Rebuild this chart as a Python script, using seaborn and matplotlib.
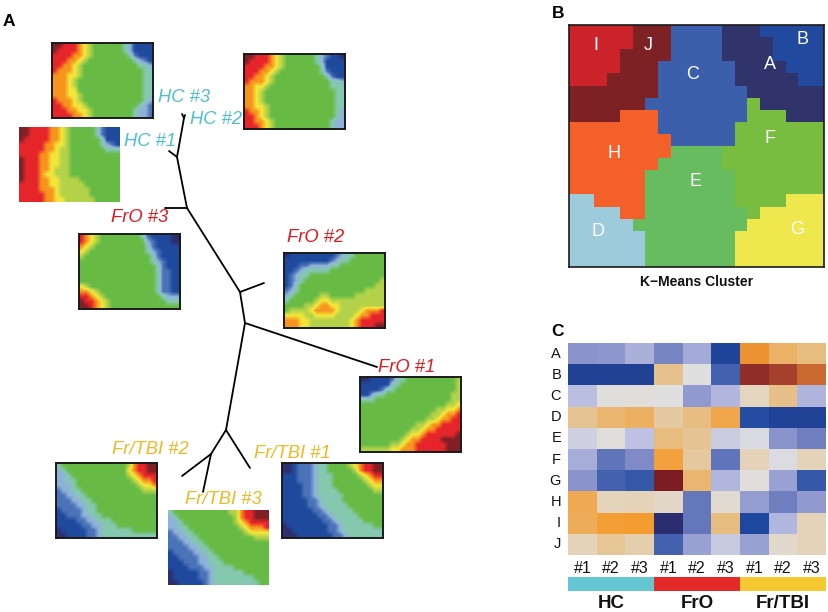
import numpy as np
import pandas as pd
import matplotlib
matplotlib.use('Agg')
import matplotlib.pyplot as plt
from matplotlib.colors import LinearSegmentedColormap, ListedColormap
import seaborn as sns

# SOM maps, one hex digit per cell: 0 = navy ... 5 = green ... a = dark red
hc_1 = [
    "aa999988765555542111", "aa999988765555542111", "a9999988765555554111",
    "99999887765555554321", "99999887665555555444", "99998877665555555555",
    "a9998877665555555555", "a9998877665555555555", "a9998876665555555555",
    "a9998776665555555555", "a9998877666655555555", "99998877666665555555",
    "99998887666666555555", "99999887666666555555", "99999887766666655555",
]
hc_2 = [
    "aa999876555555432110", "a9999876555555431111", "99998876555555541111",
    "99988765555555542111", "99887655555555554211", "98887655555555555443",
    "88776555555555555444", "88765555555555555544", "88765555555555555544",
    "88765555555555555544", "88776555555555555544", "98876555555555555543",
    "99876555555555555543", "99887655555555555433", "99987655555555555433",
]
hc_3 = [
    "aa999876555555431111", "a9999876555555431111", "99998876555555542111",
    "99988765555555554321", "99887655555555555443", "98887655555555555544",
    "88877655555555555544", "88876555555555555544", "88876555555555555544",
    "88877555555555555544", "88877655555555555544", "98887655555555555543",
    "99887765555555555432", "99988776555555554332", "99998876555555554332",
]
fro_1 = [
    "00111124455555555556", "11111144555555555556", "11112445555555555556",
    "11344555555555555566", "44455555555555555566", "55555555555555555667",
    "55555555555555566778", "55555555555555667889", "55555555555556678899",
    "55555555555667889999", "55555555556678899999", "5555555556778999999a",
    "5555555567889999aaaa", "55555566788999999aaa", "66666677888999999aaa",
]
fro_2 = [
    "01111111112344555555", "11111111123445555555", "11122333344555555555",
    "11234444455555555555", "12344555555555555555", "12345555555555555556",
    "12455555555555555566", "23455555555555556666", "34555556655555666666",
    "45555567766666666666", "55556678877666666666", "56666788887666678889",
    "77776677776666788999", "88877666666667899999", "888776666666678999aa",
]
fro_3 = [
    "98765555555542111100", "98765555555553211100", "87655555555554211111",
    "76555555555554321111", "65555555555555421111", "55555555555555432111",
    "55555555555555542111", "55555555555555542211", "55555555555555542211",
    "55555555555555542211", "76555555555555542211", "88765555555555542211",
    "99876555555555554333", "a9987655555555555444", "aa987655555555555555",
]
tbi_1 = [
    "001222344555567899aa", "001222344555556899aa", "11122234445555567899",
    "11122234445555556788", "11112234445555555677", "11112234444555555566",
    "11112234444455555555", "11111223444455555555", "11111223444445555555",
    "11111122344444555555", "11111112234444455555", "11111111223444445555",
    "01111111122344444455", "00111111122344444444", "00011111112234444444",
]
tbi_2 = [
    "455555555555556899aa", "345555555555557899aa", "33455555555555678999",
    "33445555555555567889", "33345555555555556778", "23344555555555555666",
    "22334455555555555555", "22233445555555555555", "22223344555555555555",
    "12222344555555555555", "11222334455555555555", "11112233444555555555",
    "11111223344455555555", "01111122344444455555", "00111122344444444444",
]
tbi_3 = [
    "45555555555566899aaa", "34555555555556899aaa", "33455555555556789999",
    "33445555555555678889", "23344555555555567777", "22334455555555555666",
    "22233445555555555555", "22223344555555555555", "12222334455555555555",
    "11222233445555555555", "11122233444555555555", "11112223344445555555",
    "01111122344444455555", "01111122344444444555", "00111112344444444455",
]

som_maps = [hc_1, hc_2, hc_3, fro_1, fro_2, fro_3, tbi_1, tbi_2, tbi_3]
som_names = ['HC #1', 'HC #2', 'HC #3', 'FrO #1', 'FrO #2', 'FrO #3',
             'Fr/TBI #1', 'Fr/TBI #2', 'Fr/TBI #3']
# left, top of each map in pixels, and whether it has a frame
som_pos = [(19, 127), (244, 54), (52, 43), (360, 377), (284, 253), (79, 234),
           (282, 463), (56, 463), (168, 510)]
som_frame = [False, True, True, True, True, True, True, True, False]
# centre of each name in pixels
name_pos = [(150, 142), (216, 119), (184, 98), (407, 367), (316, 237), (140, 218),
            (292, 454), (150, 449), (223, 500)]
name_colors = ['#4fbfd0'] * 3 + ['#e3181f'] * 3 + ['#f0b823'] * 3

# tree branches, pixel coordinates of the panel
tree_x = [[182, 184, 185], [184, 177, 187, 240, 245, 226, 250], [169, 177], [165, 187],
          [240, 264], [245, 377], [226, 211, 182], [211, 203]]
tree_y = [[114, 118, 115], [118, 157, 208, 292, 323, 430, 468], [151, 157], [208, 208],
          [292, 283], [323, 367], [430, 454, 476], [454, 492]]

# k-means cluster map
cluster_grid = [
    "IIIIIJJJCCCCAAABBBBB", "IIIIIJJJCCCCAAAABBBB", "IIIIJJJJCCCCAAAABBBB",
    "IIIIJJJCCCCCCAAAABBB", "IIIJJJJCCCCCCAAAAABB", "JJJJJJJCCCCCCCAAAAAA",
    "JJJJJJCCCCCCCCFAAAAA", "JJJJHHHCCCCCCCFFFAAA", "HHHHHHHCCCCCCFFFFFFF",
    "HHHHHHHHCCCCCFFFFFFF", "HHHHHHHHEEEEFFFFFFFF", "HHHHHHHEEEEEFFFFFFFF",
    "HHHHHHEEEEEEEFFFFFFF", "HHHHHHEEEEEEEFFFFFFF", "DDHHHHEEEEEEEFFFFGGG",
    "DDDDHHEEEEEEEEFGGGGG", "DDDDDEEEEEEEEEGGGGGG", "DDDDDDEEEEEEEGGGGGGG",
    "DDDDDDEEEEEEEGGGGGGG", "DDDDDDEEEEEEEGGGGGGG",
]
cluster_names = list('ABCDEFGHIJ')
cluster_colors = ['#31346a', '#214a9f', '#3c5fab', '#9ecbdc', '#66bc5e',
                  '#78bd40', '#efe74e', '#f4602a', '#cc2229', '#7e2125']
label_cols = [15.8, 18.3, 9.7, 2.3, 9.9, 15.8, 17.9, 3.5, 2.1, 6.2]
label_rows = [3.3, 1.2, 4.1, 17.1, 12.9, 9.4, 16.9, 10.6, 1.7, 1.7]

# cluster by sample heatmap
sample_ticks = ['#1', '#2', '#3'] * 3
group_names = ['HC', 'FrO', 'Fr/TBI']
group_colors = ['#66c6d4', '#e52a2a', '#f4c82f']
sample_groups = [0, 0, 0, 1, 1, 1, 2, 2, 2]
row_a = [-.45, -.43, -.30, -.52, -.33, -.82, .62, .45, .38]
row_b = [-.85, -.85, -.85, .33, .00, -.68, .92, .84, .72]
row_c = [-.22, .02, .03, .00, -.42, -.27, .17, .35, -.28]
row_d = [.32, .42, .46, .27, .36, .52, -.78, -.83, -.83]
row_e = [-.10, .03, -.20, .38, .32, -.13, -.03, -.45, -.55]
row_f = [-.32, -.60, -.50, .56, .28, -.60, .20, -.02, .20]
row_g = [-.45, -.68, -.72, 1.0, .42, -.27, .03, -.38, -.72]
row_h = [.50, .18, .20, .13, -.58, .08, -.40, -.55, -.42]
row_i = [.48, .58, .60, -1.0, -.58, .37, -.80, -.27, .20]
row_j = [.20, .30, .24, -.68, -.38, -.14, -.38, .10, .20]
sample_rows = [row_a, row_b, row_c, row_d, row_e, row_f, row_g, row_h, row_i, row_j]

W, H = 829, 612

som_cmap = LinearSegmentedColormap.from_list('som', [
    '#2b2f6e', '#1f4a9e', '#4a73b8', '#8fb3da', '#85c8b0', '#66bb45',
    '#b5d24a', '#f4e83a', '#f7941e', '#e8262a', '#7f1f26'])
value_cmap = LinearSegmentedColormap.from_list('blue_orange', [
    (0.0, '#2a2d70'), (0.1, '#1e48a0'), (0.25, '#7f8ac6'), (0.375, '#b6bae0'),
    (0.5, '#dfdfe0'), (0.6, '#e4d3b8'), (0.7, '#e8b878'), (0.8, '#f59c30'),
    (0.9, '#b04a30'), (1.0, '#7c1d24')])


def px_axes(fig, left, top, right, bottom):
    return fig.add_axes([left / W, 1 - bottom / H, (right - left) / W, (bottom - top) / H])


def draw_som(fig, rows, left, top, frame):
    ax = px_axes(fig, left, top, left + 101, top + 75)
    grid = np.array([[int(c, 16) for c in r] for r in rows])
    # the published maps are soft, so let the renderer blend neighbouring cells
    ax.imshow(grid, cmap=som_cmap, vmin=0, vmax=10, aspect='auto',
              interpolation='bilinear', interpolation_stage='data')
    ax.set_xticks([])
    ax.set_yticks([])
    for spine in ax.spines.values():
        spine.set_visible(frame)
        spine.set_color('#1a1a1a')
        spine.set_linewidth(1.4)


sns.set_theme(style='white')
plt.rcParams['font.family'] = ['Liberation Sans', 'DejaVu Sans']

fig = plt.figure(figsize=(W / 100, H / 100), dpi=100)

# panel A: tree and names share one axes in pixel units
tree_ax = fig.add_axes([0, 0, 1, 1])
tree_ax.set_xlim(0, W)
tree_ax.set_ylim(H, 0)
tree_ax.axis('off')
for xs, ys in zip(tree_x, tree_y):
    tree_ax.plot(xs, ys, color='black', linewidth=1.3, solid_capstyle='round')
for name, (x, y), color in zip(som_names, name_pos, name_colors):
    tree_ax.text(x, y, name, color=color, fontsize=13.2, style='italic',
                 ha='center', va='center')
tree_ax.text(9, 21, 'A', fontsize=12.5, fontweight='bold', ha='center', va='center', color='black')
tree_ax.text(558, 13, 'B', fontsize=12.5, fontweight='bold', ha='center', va='center', color='black')
tree_ax.text(558, 331, 'C', fontsize=12.5, fontweight='bold', ha='center', va='center', color='black')

for rows, (left, top), frame in zip(som_maps, som_pos, som_frame):
    draw_som(fig, rows, left, top, frame)

# panel B
ax_b = px_axes(fig, 569, 25, 824, 267)
cluster_idx = np.array([[cluster_names.index(c) for c in r] for r in cluster_grid])
sns.heatmap(cluster_idx, ax=ax_b, cmap=ListedColormap(cluster_colors), vmin=-0.5, vmax=9.5,
            cbar=False, xticklabels=False, yticklabels=False)
for spine in ax_b.spines.values():
    spine.set_visible(True)
    spine.set_color('#1a1a1a')
    spine.set_linewidth(1.2)
for name, cx, cy in zip(cluster_names, label_cols, label_rows):
    ax_b.text(cx, cy, name, color='white', fontsize=13, ha='center', va='center')
ax_b.set_xlabel('K\u2212Means Cluster', fontsize=10, fontweight='bold', labelpad=6, color='#111111')

# panel C
ax_c = px_axes(fig, 568, 343, 826, 555)
table = pd.DataFrame(sample_rows, index=cluster_names)
sns.heatmap(table, ax=ax_c, cmap=value_cmap, vmin=-1, vmax=1, cbar=False,
            xticklabels=sample_ticks, yticklabels=cluster_names)
ax_c.tick_params(axis='x', length=0, labelsize=11.5, colors='#111111', pad=4, labelrotation=0)
ax_c.tick_params(axis='y', length=0, labelsize=10.5, colors='#111111', pad=5, labelrotation=0)

ax_g = px_axes(fig, 568, 577, 826, 591)
sns.heatmap(np.array([sample_groups]), ax=ax_g, cmap=ListedColormap(group_colors), vmin=-0.5, vmax=2.5,
            cbar=False, xticklabels=False, yticklabels=False)
ax_g.set_xticks([1.5, 4.5, 7.5])
ax_g.set_xticklabels(group_names, fontsize=13.5, fontweight='bold', color='#111111', rotation=0)
ax_g.tick_params(axis='x', length=0, pad=3)

fig.savefig('out.png', dpi=100)
